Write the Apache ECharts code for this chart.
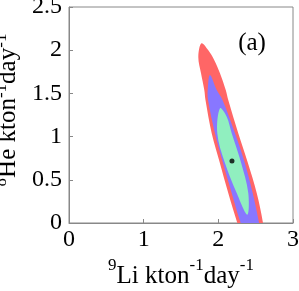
<!DOCTYPE html>
<html>
<head>
<meta charset="utf-8">
<script src="https://cdn.jsdelivr.net/npm/echarts@6/dist/echarts.min.js"></script>
<style>
html,body{margin:0;padding:0;background:#fff;}
#chart{width:299px;height:291px;}
</style>
</head>
<body>
<div id="chart"></div>
<script>
// Tick values
const xTicks = [0, 1, 2, 3];
const yTicks = [0, 0.5, 1, 1.5, 2, 2.5];

// Contour boundaries (x = 9Li, y = 8He), in kton^-1 day^-1
const contourOuter = [
  [1.774, 2.079], [1.866, 1.998], [1.946, 1.883], [2.022, 1.732], [2.099, 1.539],
  [2.133, 1.424], [2.267, 1.039], [2.391, 0.708], [2.514, 0.346], [2.598, 0.0],
  [2.64, -0.3], [2.62, -0.55], [2.58, -0.65], [2.50, -0.5], [2.37, -0.3],
  [2.254, 0.0], [2.133, 0.346], [2.016, 0.708], [1.911, 1.039], [1.828, 1.424],
  [1.812, 1.539], [1.768, 1.732], [1.732, 1.924]
];
const contourMiddle = [
  [1.888, 1.712], [1.978, 1.539], [2.056, 1.424], [2.223, 1.039], [2.350, 0.708],
  [2.460, 0.346], [2.545, 0.0], [2.58, -0.2], [2.55, -0.35], [2.45, -0.3],
  [2.38, -0.15], [2.299, 0.0], [2.179, 0.346], [2.058, 0.708], [1.955, 1.039],
  [1.862, 1.424], [1.858, 1.539]
];
const contourInner = [
  [2.022, 1.328], [2.112, 1.231], [2.179, 1.039], [2.301, 0.708], [2.401, 0.346],
  [2.388, 0.096], [2.246, 0.346], [2.083, 0.708], [1.986, 1.039]
];
const bestFit = [[2.183, 0.719]];

const contours = [
  {pts: contourOuter, color: '#ff6666'},
  {pts: contourMiddle, color: '#8877ff'},
  {pts: contourInner, color: '#90efbf'}
];

const serif = 'Liberation Serif';
function makeRich(lh) {
  return {
    n: {fontFamily: serif, fontSize: 25, color: '#000', lineHeight: lh, verticalAlign: 'bottom'},
    s: {fontFamily: serif, fontSize: 17, color: '#000', lineHeight: 17, verticalAlign: 'top'}
  };
}

const chart = echarts.init(document.getElementById('chart'), null, {renderer: 'canvas'});

const series = contours.map(c => ({
  type: 'custom',
  clip: true,
  silent: true,
  data: [[0, 0]],
  renderItem: function (params, api) {
    const points = c.pts.map(p => api.coord(p));
    return {
      type: 'polygon',
      shape: {points: points, smooth: 0.35},
      style: {fill: c.color, stroke: null}
    };
  }
}));
series.push({
  type: 'scatter',
  data: bestFit,
  symbol: 'circle',
  symbolSize: 5,
  itemStyle: {color: '#000'},
  silent: true
});

chart.setOption({
  animation: false,
  textStyle: {fontFamily: serif},
  grid: {left: 69, right: 6, top: 7, bottom: 68, show: true, borderColor: '#888', borderWidth: 1,
         containLabel: false, outerBoundsMode: 'none'},
  xAxis: {
    type: 'value',
    min: xTicks[0], max: xTicks[xTicks.length - 1], interval: xTicks[1] - xTicks[0],
    axisLine: {lineStyle: {color: '#888', width: 1}},
    axisTick: {inside: true, length: 4, lineStyle: {color: '#888'}},
    splitLine: {show: false},
    axisLabel: {fontFamily: serif, fontSize: 24, color: '#000', margin: 5},
    name: '{s|9}{n|Li kton}{s|-1}{n|day}{s|-1}',
    nameLocation: 'middle',
    nameGap: 33,
    nameTextStyle: {rich: makeRich(32)}
  },
  yAxis: {
    type: 'value',
    min: yTicks[0], max: yTicks[yTicks.length - 1], interval: yTicks[1] - yTicks[0],
    axisLine: {lineStyle: {color: '#888', width: 1}},
    axisTick: {inside: true, length: 4, lineStyle: {color: '#888'}},
    splitLine: {show: false},
    axisLabel: {fontFamily: serif, fontSize: 24, color: '#000', margin: 7, padding: [9, 0, 0, 0]},
    name: '{s|8}{n|He kton}{s|-1}{n|day}{s|-1}',
    nameLocation: 'middle',
    nameGap: 42,
    nameTextStyle: {rich: makeRich(28), padding: [0, 0, 0, 10]}
  },
  graphic: [{
    type: 'text',
    x: 252, y: 43,
    style: {text: '(a)', fontFamily: serif, fontSize: 25, fill: '#000', align: 'center', verticalAlign: 'middle'}
  }],
  series: series
});
</script>
</body>
</html>
